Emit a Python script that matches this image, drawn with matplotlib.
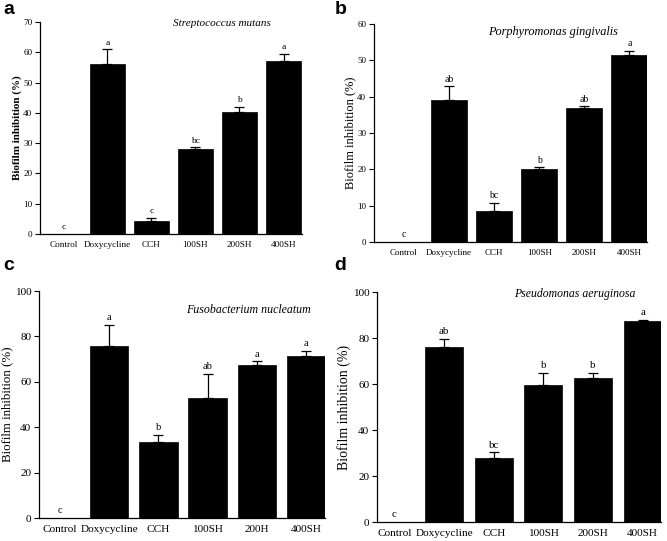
import matplotlib
matplotlib.use("Agg")
import matplotlib.pyplot as plt

plt.rcParams['font.family'] = ['Liberation Serif', 'DejaVu Serif']

groups_abd = ["Control", "Doxycycline", "CCH", "100SH", "200SH", "400SH"]
groups_c = ["Control", "Doxycycline", "CCH", "100SH", "200H", "400SH"]

vals_a = [0, 56.0, 4.2, 28.0, 40.3, 57.0]
err_a = [0, 5.0, 1.1, 0.7, 1.7, 2.5]
sig_a = ["c", "a", "c", "bc", "b", "a"]

vals_b = [0, 39.2, 8.5, 20.2, 36.8, 51.4]
err_b = [0, 3.6, 2.3, 0.4, 0.5, 1.3]
sig_b = ["c", "ab", "bc", "b", "ab", "a"]

vals_c = [0, 75.7, 33.3, 53.0, 67.5, 71.5]
err_c = [0, 9.3, 3.2, 10.5, 1.5, 2.0]
sig_c = ["c", "a", "b", "ab", "a", "a"]

vals_d = [0, 76.0, 27.8, 59.7, 62.8, 87.5]
err_d = [0, 3.5, 2.5, 5.3, 2.2, 0.5]
sig_d = ["c", "ab", "bc", "b", "b", "a"]

W, H = 667, 541
fig = plt.figure(figsize=(W / 100, H / 100), dpi=100)


def px_axes(l, r, t, b):
    return fig.add_axes([l / W, 1 - b / H, (r - l) / W, (b - t) / H])


panels = [
    dict(box=(40, 302, 22, 234), xlim=(-0.53, 5.42), ymax=70, step=10,
         vals=vals_a, err=err_a, sig=sig_a, labels=groups_abd,
         title="Streptococcus mutans", tpos=(3.6, 69.5), tfs=8.0,
         tick=6.6, ylab=8.0, ylw='bold', sigfs=6.8, letter="a", lpos=(9, 10), bw=0.8),
    dict(box=(374, 647, 24, 242), xlim=(-0.66, 5.39), ymax=60, step=10,
         vals=vals_b, err=err_b, sig=sig_b, labels=groups_abd,
         title="Porphyromonas gingivalis", tpos=(3.3, 57.8), tfs=8.8,
         tick=6.5, ylab=9.0, ylw='normal', sigfs=7.0, letter="b", lpos=(341, 10), bw=0.8),
    dict(box=(39, 325, 291, 518), xlim=(-0.43, 5.39), ymax=100, step=20,
         vals=vals_c, err=err_c, sig=sig_c, labels=groups_c,
         title="Fusobacterium nucleatum", tpos=(3.83, 91.6), tfs=8.6,
         tick=8.1, ylab=9.3, ylw='normal', sigfs=7.5, letter="c", lpos=(9, 265), bw=0.78),
    dict(box=(377, 661, 292, 522), xlim=(-0.35, 5.37), ymax=100, step=20,
         vals=vals_d, err=err_d, sig=sig_d, labels=groups_abd,
         title="Pseudomonas aeruginosa", tpos=(3.63, 99.0), tfs=8.5,
         tick=8.1, ylab=10.0, ylw='normal', sigfs=7.8, letter="d", lpos=(340, 265), bw=0.76),
]

for p in panels:
    ax = px_axes(*p["box"])
    x = list(range(len(p["labels"])))
    ax.bar(x, p["vals"], width=p["bw"], color="black", edgecolor="black", linewidth=0.5)
    for xi, v, e in zip(x, p["vals"], p["err"]):
        if e > 0:
            ax.errorbar(xi, v, yerr=[[0], [e]], fmt='none', ecolor='black',
                        elinewidth=0.9, capsize=3.5, capthick=0.9)
    for xi, v, e, s in zip(x, p["vals"], p["err"], p["sig"]):
        ax.text(xi, v + e + p["ymax"] * 0.012, s, ha='center', va='bottom',
                fontsize=p["sigfs"])
    ax.set_xlim(*p["xlim"])
    ax.set_ylim(0, p["ymax"])
    ax.set_yticks(range(0, p["ymax"] + 1, p["step"]))
    ax.set_xticks(x)
    ax.set_xticklabels(p["labels"], fontsize=p["tick"])
    ax.tick_params(axis='x', length=0, pad=5)
    ax.tick_params(axis='y', length=3.5, width=0.8, labelsize=p["tick"], pad=2)
    for s in ("top", "right"):
        ax.spines[s].set_visible(False)
    for s in ("left", "bottom"):
        ax.spines[s].set_linewidth(0.9)
    ax.set_ylabel("Biofilm inhibition (%)", fontsize=p["ylab"], fontweight=p["ylw"], labelpad=1)
    ax.text(p["tpos"][0], p["tpos"][1], p["title"], style='italic', fontsize=p["tfs"],
            ha='center', va='center')
    fig.text(p["lpos"][0] / W, 1 - p["lpos"][1] / H, p["letter"], fontsize=14,
             fontweight='bold', family='Liberation Sans', ha='center', va='center')

fig.savefig("out.png", dpi=100)
